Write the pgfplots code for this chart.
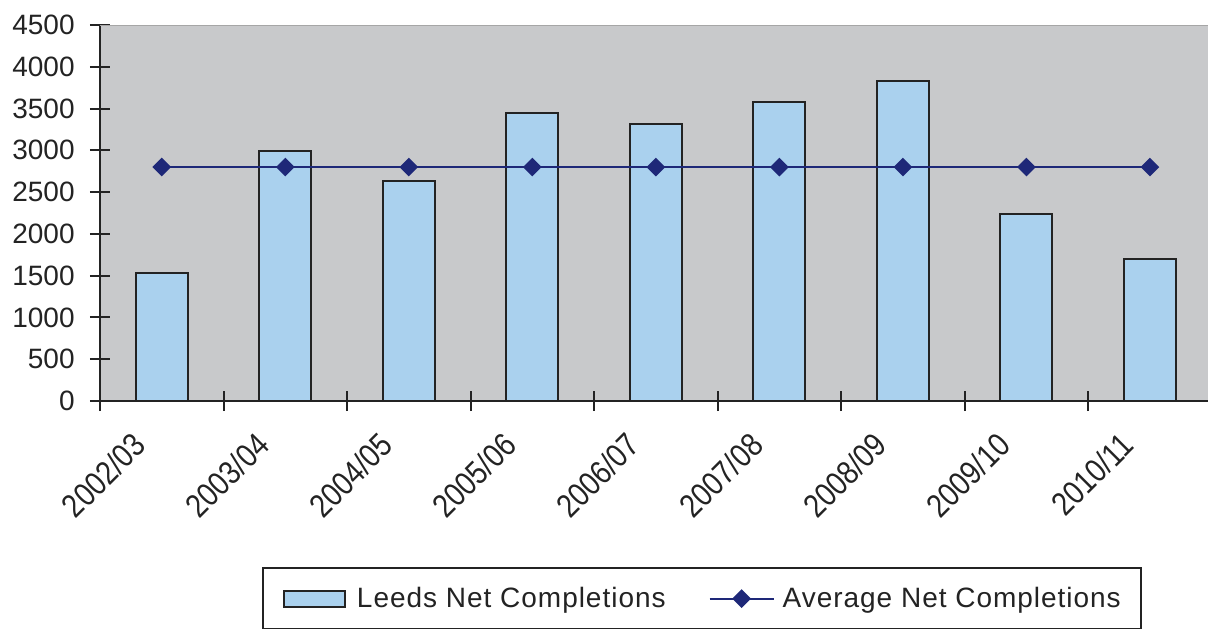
\documentclass[border=0pt]{standalone}
\usepackage{fontspec}
\setmainfont{Liberation Sans}
\newfontfamily\legfont[LetterSpace=3.5]{Liberation Sans}
\newfontfamily\xfont[FakeStretch=0.85]{Liberation Sans}
\usepackage{pgfplots}
\pgfplotsset{compat=1.18}
\definecolor{bgray}{RGB}{200,201,203}
\definecolor{barblue}{RGB}{170,209,238}
\definecolor{navy}{RGB}{30,40,120}
\definecolor{axblack}{RGB}{35,35,35}
\begin{document}
\begin{tikzpicture}
\begin{axis}[
  at={(0,0)}, anchor=south west,
  width=554pt, height=188pt, scale only axis,
  xmin=-0.5, xmax=8.47, ymin=0, ymax=4500,
  ytick={0,500,...,4500},
  xtick={0,...,8},
  xticklabels={2002/03,2003/04,2004/05,2005/06,2006/07,2007/08,2008/09,2009/10,2010/11},
  minor xtick={-0.5,0.5,...,7.5},
  axis x line*=bottom, axis y line*=left,
  axis line style={line width=1pt, axblack},
  tick style={line width=1pt, axblack},
  every major x tick/.append style={draw=none},
  tick align=center,
  major tick length=10pt, minor tick length=10pt,
  axis background/.style={fill=bgray},
  /pgf/number format/assume math mode=true,
  /pgf/number format/1000 sep={},
  tick label style={font=\fontsize{14}{16}\selectfont, text=axblack},
  yticklabel style={anchor=east, inner sep=0pt, xshift=-7.5pt},
  xticklabel style={font=\xfont\fontsize{16.5}{18}\selectfont, xshift=-15.5pt, yshift=-9.5pt, rotate=45, anchor=north east, inner sep=0pt},
  legend style={at={(0.1462,-0.4415)}, anchor=north west, legend columns=2,
    draw=axblack, line width=1pt, inner xsep=10pt, inner ysep=9.5pt,
    font=\legfont\fontsize{14}{16}\selectfont, text=axblack,
    nodes={inner sep=0pt},
    /tikz/column 1/.style={column sep=5.5pt},
    /tikz/column 2/.style={column sep=21.5pt},
    /tikz/column 3/.style={column sep=4pt}},
]
\draw[gray!70, line width=1pt] (rel axis cs:0,1) -- (rel axis cs:1,1);
\addplot[ybar, bar width=26pt, fill=barblue, draw=axblack, line width=1pt,
  legend image code/.code={\draw[fill=barblue, draw=axblack, line width=1pt] (0pt,-4pt) rectangle (30.5pt,4pt);}]
  coordinates {(0,1536) (1,2990) (2,2633) (3,3443) (4,3315) (5,3578) (6,3826) (7,2234) (8,1696)};
\addlegendentry{Leeds Net Completions}
\addplot[navy, line width=1pt, mark=square*, mark size=2.8pt, mark options={rotate=45, fill=navy, draw=navy},
  legend image code/.code={\draw[navy, line width=1pt] (0pt,0pt) -- (32pt,0pt); \fill[navy] (12pt,0pt) -- (16pt,4pt) -- (20pt,0pt) -- (16pt,-4pt) -- cycle;}]
  coordinates {(0,2800) (1,2800) (2,2800) (3,2800) (4,2800) (5,2800) (6,2800) (7,2800) (8,2800)};
\addlegendentry{Average Net Completions}
\end{axis}
\pgfresetboundingbox
\useasboundingbox (-50pt,-113.5pt) rectangle (554pt,200.5pt);
\end{tikzpicture}
\end{document}
